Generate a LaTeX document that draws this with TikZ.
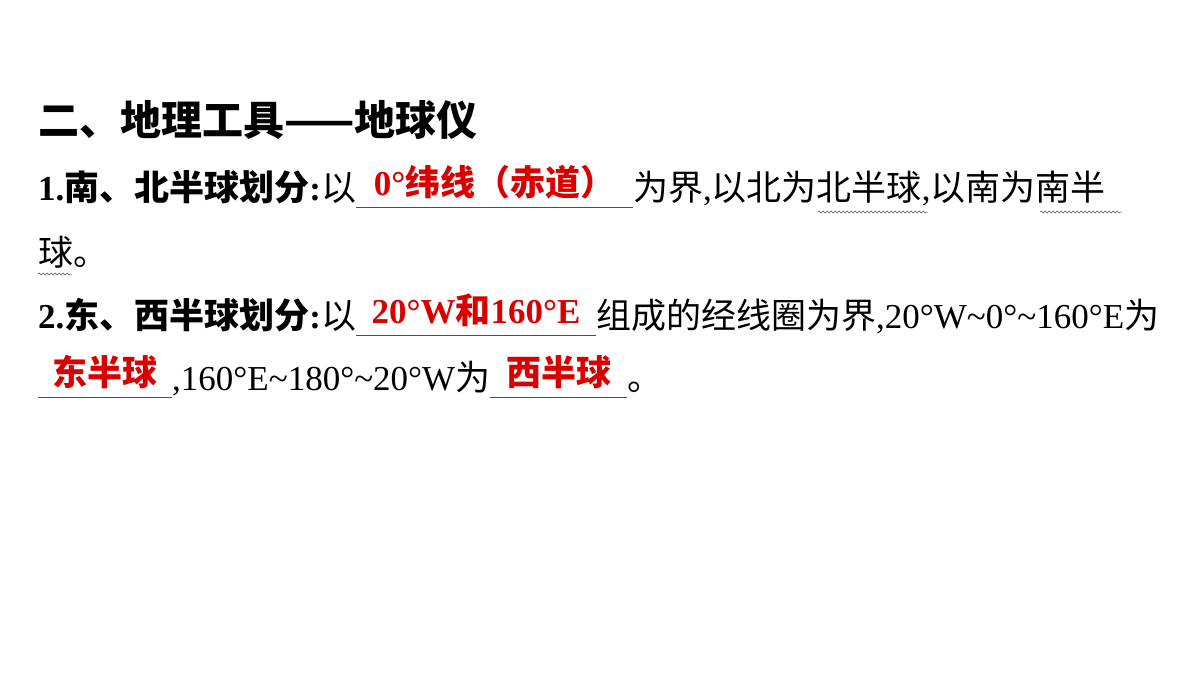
\documentclass[tikz,border=0pt]{standalone}
\usepackage{fontspec}
\setmainfont{Liberation Serif}
\newfontfamily\cj{Noto Sans CJK SC}
\usetikzlibrary{decorations.pathmorphing}
\newcommand\blank[2]{\rlap{\color{black!70}\rule[-8pt]{#1}{0.8pt}}\makebox[#1]{\raisebox{5pt}{\color{red!85!black}\bfseries #2}}}
\newcommand\tl{\textasciitilde}
\tikzset{line/.style={anchor=base west,inner sep=0pt,font=\fontsize{35}{35}\selectfont},
 wavy/.style={draw=black!70,line width=0.5pt,decorate,decoration={snake,amplitude=1pt,segment length=4pt}}}
\begin{document}
\begin{tikzpicture}[x=1pt,y=1pt]
\useasboundingbox (0,0) rectangle (1200,-675);
\node[line,font=\fontsize{41}{41}\selectfont\bfseries\cj] (t) at (38,-135) {二、地理工具——地球仪};
\node[line] (l1) at (38,-200) {\textbf{1.}{\cj\bfseries 南、北半球划分}\textbf{:}{\cj 以}\blank{277pt}{0°{\cj 纬线（赤道）}}{\cj 为界},{\cj 以北为北半球},{\cj 以南为南半}};
\node[line] (l2) at (38,-265) {{\cj 球。}};
\node[line] (l3) at (38,-328) {\textbf{2.}{\cj\bfseries 东、西半球划分}\textbf{:}{\cj 以}\blank{240pt}{20°W{\cj 和}160°E}{\cj 组成的经线圈为界},20°W\tl0°\tl160°E{\cj 为}};
\node[line] (l4) at (38,-390) {\blank{134pt}{\cj 东半球},160°E\tl180°\tl20°W{\cj 为}\blank{137pt}{\cj 西半球}{\cj 。}};
\coordinate (w1a) at (818,-212); \coordinate (w1b) at (928,-212);
\coordinate (w2a) at (1040,-212); \coordinate (w2b) at (1122,-212);
\coordinate (w3a) at (38,-274); \coordinate (w3b) at (72,-274);
\draw[wavy] (w1a) -- (w1b);
\draw[wavy] (w2a) -- (w2b);
\draw[wavy] (w3a) -- (w3b);
\end{tikzpicture}
\end{document}
